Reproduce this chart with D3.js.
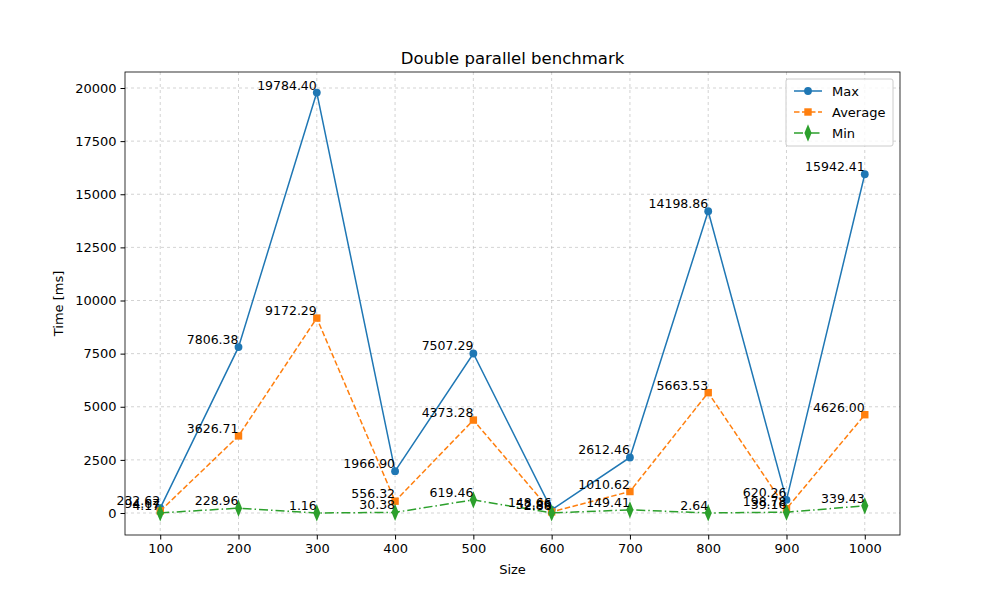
<!DOCTYPE html>
<html><head><meta charset="utf-8">
<script src="https://cdn.jsdelivr.net/npm/d3@7"></script>
<style>body{margin:0;background:#fff;font-family:"DejaVu Sans",sans-serif}</style>
</head><body><svg id="c" width="1000" height="600"></svg>
<script>
const sizes=[100,200,300,400,500,600,700,800,900,1000];
const maxVals=[232.62,7806.38,19784.40,1966.90,7507.29,148.66,2612.46,14198.86,620.26,15942.41];
const avgVals=[94.67,3626.71,9172.29,556.32,4373.28,52.86,1010.62,5663.53,198.78,4626.00];
const minVals=[4.17,228.96,1.16,30.38,619.46,2.88,149.41,2.64,39.16,339.43];
const yTicks=[0,2500,5000,7500,10000,12500,15000,17500,20000];
const series=[
 {name:"Max",vals:maxVals,color:"#1f77b4",dash:null,marker:"circle"},
 {name:"Average",vals:avgVals,color:"#ff7f0e",dash:"5.5,2.5",marker:"square"},
 {name:"Min",vals:minVals,color:"#2ca02c",dash:"9,3,1.5,3",marker:"diamond"}];
const svg=d3.select("#c");
const L=125,R=900,T=72,B=535;
const x=d3.scaleLinear().domain([55,1045]).range([L,R]);
const y=d3.scaleLinear().domain([-1035,20753]).range([B,T]);
const g=svg.append("g");
g.selectAll(".gx").data(sizes).enter().append("line").attr("x1",d=>x(d)).attr("x2",d=>x(d)).attr("y1",T).attr("y2",B).attr("stroke","#b0b0b0").attr("stroke-opacity",0.7).attr("stroke-dasharray","3,3").attr("stroke-width",0.8);
g.selectAll(".gy").data(yTicks).enter().append("line").attr("y1",d=>y(d)).attr("y2",d=>y(d)).attr("x1",L).attr("x2",R).attr("stroke","#b0b0b0").attr("stroke-opacity",0.7).attr("stroke-dasharray","3,3").attr("stroke-width",0.8);
const xa=svg.append("g").attr("transform",`translate(0,${B})`).call(d3.axisBottom(x).tickValues(sizes).tickSize(4.5).tickPadding(4).tickFormat(d3.format("d")));
const ya=svg.append("g").attr("transform",`translate(${L},0)`).call(d3.axisLeft(y).tickValues(yTicks).tickSize(4.5).tickPadding(4).tickFormat(d3.format("d")));
[xa,ya].forEach(a=>{a.select(".domain").remove();a.selectAll("text").attr("font-size",13).attr("fill","#000").attr("font-family","DejaVu Sans");});
svg.append("rect").attr("x",L).attr("y",T).attr("width",R-L).attr("height",B-T).attr("fill","none").attr("stroke","#000").attr("stroke-width",0.8);
const sym={circle:d3.symbolCircle,square:d3.symbolSquare,diamond:d3.symbolDiamond};
const sz={circle:48,square:55,diamond:55};
const dtf=" scale(0.9,1.25)";
series.forEach(s=>{
 const line=d3.line().x((d,i)=>x(sizes[i])).y(d=>y(d));
 g.append("path").datum(s.vals).attr("d",line).attr("fill","none").attr("stroke",s.color).attr("stroke-width",1.5).attr("stroke-dasharray",s.dash);
 g.selectAll(null).data(s.vals).enter().append("path").attr("d",d3.symbol(sym[s.marker],sz[s.marker])).attr("transform",(d,i)=>`translate(${x(sizes[i])},${y(d)})${s.marker==="diamond"?dtf:""}`).attr("fill",s.color);
});
series.forEach(s=>{
 g.selectAll(null).data(s.vals).enter().append("text").attr("x",(d,i)=>x(sizes[i])).attr("y",d=>y(d)-3).attr("text-anchor","end").attr("font-size",12.5).text(d=>d.toFixed(2));
});
svg.append("text").attr("x",(L+R)/2).attr("y",64).attr("text-anchor","middle").attr("font-size",16.5).text("Double parallel benchmark");
svg.append("text").attr("x",(L+R)/2).attr("y",574).attr("text-anchor","middle").attr("font-size",13).text("Size");
svg.append("text").attr("transform",`translate(63,${(T+B)/2}) rotate(-90)`).attr("text-anchor","middle").attr("font-size",13).text("Time [ms]");
const lg=svg.append("g").attr("transform","translate(786,79)");
lg.append("rect").attr("width",107).attr("height",67).attr("rx",2).attr("fill","#fff").attr("fill-opacity",0.8).attr("stroke","#ccc");
series.forEach((s,i)=>{
 const yy=12+i*21;
 lg.append("line").attr("x1",8).attr("x2",36).attr("y1",yy).attr("y2",yy).attr("stroke",s.color).attr("stroke-width",1.5).attr("stroke-dasharray",s.dash);
 lg.append("path").attr("d",d3.symbol(sym[s.marker],sz[s.marker])).attr("transform",`translate(22,${yy})${s.marker==="diamond"?dtf:""}`).attr("fill",s.color);
 lg.append("text").attr("x",46).attr("y",yy+4.5).attr("font-size",13).text(s.name);
});
</script></body></html>
